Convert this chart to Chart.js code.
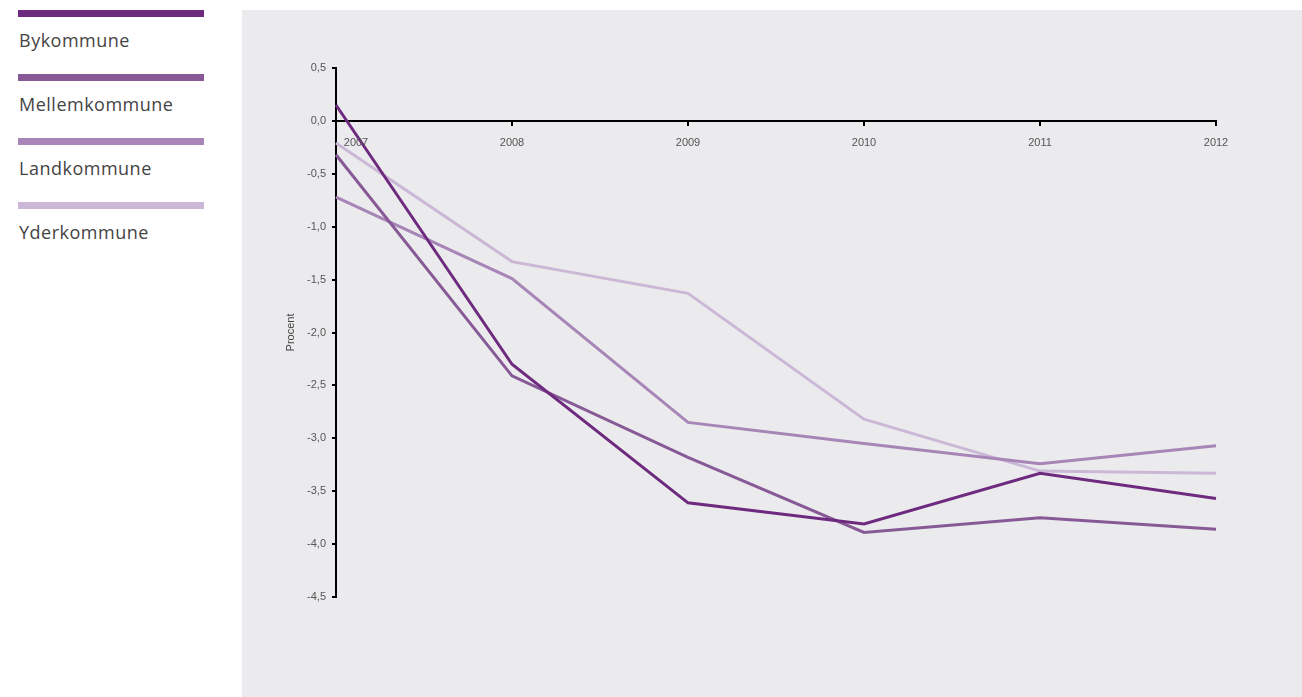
<!DOCTYPE html>
<html>
<head>
<meta charset="utf-8">
<script src="https://cdn.jsdelivr.net/npm/chart.js@4"></script>
<style>
    body { margin: 0; background: #fff; font-family: 'Open Sans', sans-serif; }
    #legend { position: absolute; left: 18px; top: 10px; width: 187px; }
    .legend-item { height: 64px; }
    .legend-bar { height: 7px; width: 186px; }
    .legend-text { margin-top: 12px; margin-left: 1px; font-size: 18px; color: #444; letter-spacing: 0.5px; line-height: 22px; }
    #panel { position: absolute; left: 242px; top: 10px; width: 1060px; height: 687px; background: #ebebee; }
</style>
</head>
<body>
<div id="legend"></div>
<div id="panel"><canvas id="trend-chart" width="1060" height="687"></canvas></div>
<script>
const years = ['2007', '2008', '2009', '2010', '2011', '2012'];
const seriesNames = ['Bykommune', 'Mellemkommune', 'Landkommune', 'Yderkommune'];
const seriesColors = ['#6e2a7e', '#875a97', '#a885b7', '#cbb8d7'];

const bykommune = [0.15, -2.30, -3.61, -3.81, -3.33, -3.57];
const mellemkommune = [-0.32, -2.41, -3.18, -3.89, -3.75, -3.86];
const landkommune = [-0.72, -1.49, -2.85, -3.05, -3.24, -3.07];
const yderkommune = [-0.21, -1.33, -1.63, -2.82, -3.31, -3.33];

const seriesValues = [bykommune, mellemkommune, landkommune, yderkommune];

// legend on the left, outside the grey panel
const legendEl = document.getElementById('legend');
seriesNames.forEach((name, i) => {
    const item = document.createElement('div');
    item.className = 'legend-item';
    item.innerHTML = `<div class="legend-bar" style="background:${seriesColors[i]}"></div><div class="legend-text">${name}</div>`;
    legendEl.appendChild(item);
});

const tickFont = { family: "'Liberation Sans', sans-serif", size: 11 };

// x labels drawn by hand so the first one can sit clear of the y axis
const yearLabels = {
    id: 'yearLabels',
    afterDraw(chart) {
        const ctx = chart.ctx;
        const x = chart.scales.x;
        const y0 = chart.scales.y.getPixelForValue(0);
        ctx.save();
        ctx.font = `${tickFont.size}px ${tickFont.family}`;
        ctx.fillStyle = '#555';
        ctx.textAlign = 'center';
        ctx.textBaseline = 'middle';
        years.forEach((year, i) => {
            const px = x.getPixelForTick(i) + (i === 0 ? 20 : 0);
            ctx.fillText(year, px, y0 + 22);
        });
        ctx.restore();
    }
};

const chart = new Chart(document.getElementById('trend-chart').getContext('2d'), {
    type: 'line',
    data: {
        labels: years,
        datasets: seriesNames.map((name, i) => ({
            label: name,
            data: seriesValues[i],
            borderColor: seriesColors[i],
            borderWidth: 3,
            pointRadius: 0,
            tension: 0,
            fill: false
        }))
    },
    options: {
        responsive: false,
        animation: false,
        devicePixelRatio: 1,
        layout: { padding: { left: 38, top: 58, right: 86, bottom: 100 } },
        plugins: {
            legend: { display: false },
            tooltip: { enabled: false }
        },
        scales: {
            x: {
                position: { y: 0 },
                offset: false,
                z: 1,
                border: { color: '#000', width: 2 },
                grid: { drawOnChartArea: false, drawTicks: true, tickLength: 4, color: '#000', lineWidth: 2 },
                ticks: { display: false }
            },
            y: {
                min: -4.5,
                max: 0.5,
                z: 1,
                afterFit(scale) { scale.width = 56; },
                border: { color: '#000', width: 2 },
                grid: { drawOnChartArea: false, drawTicks: true, tickLength: 4, color: '#000', lineWidth: 2 },
                ticks: {
                    stepSize: 0.5,
                    padding: 6,
                    color: '#555',
                    font: tickFont,
                    callback: v => v.toFixed(1).replace('.', ',')
                },
                title: { display: true, text: 'Procent', color: '#444', font: tickFont, padding: 4 }
            }
        }
    },
    plugins: [yearLabels]
});
</script>
</body>
</html>
